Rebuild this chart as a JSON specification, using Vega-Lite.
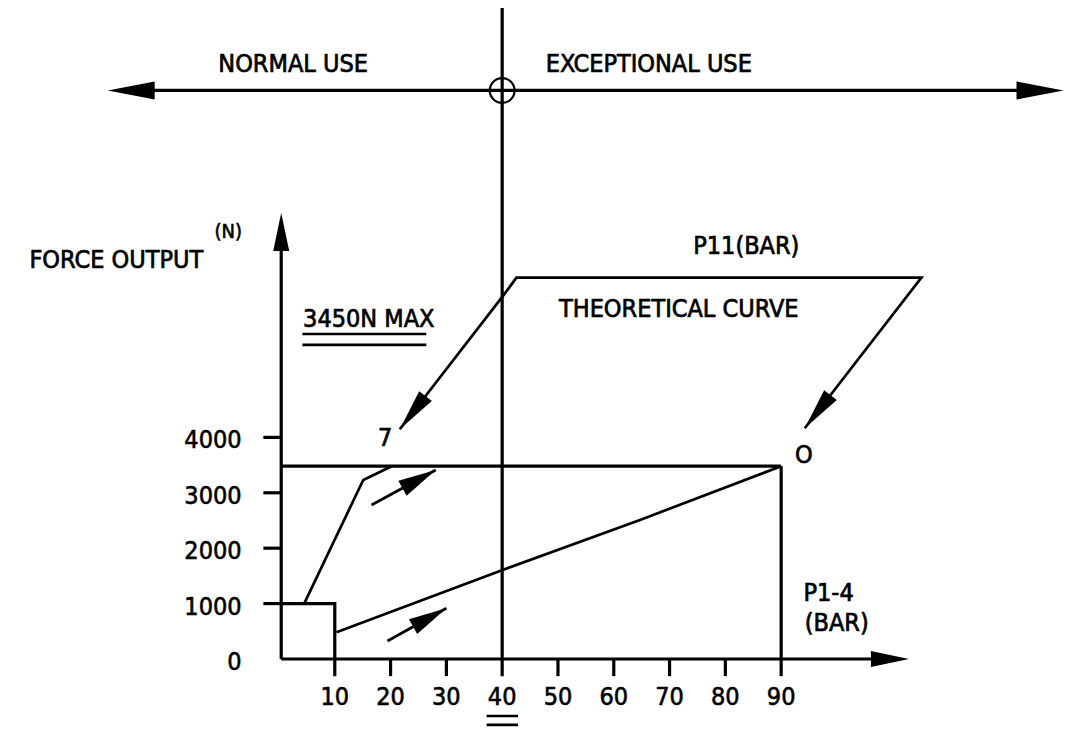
{
  "$schema": "https://vega.github.io/schema/vega-lite/v6.json",
  "width": 1078,
  "height": 731,
  "autosize": {"type": "fit", "contains": "padding"},
  "padding": 0,
  "background": "white",
  "config": {"view": {"stroke": null}},
  "encoding": {
    "x": {"field": "x", "type": "quantitative", "scale": {"domain": [-50, 143.2], "nice": false, "zero": false}, "axis": null},
    "y": {"field": "y", "type": "quantitative", "scale": {"domain": [-1300, 11895], "nice": false, "zero": false}, "axis": null}
  },
  "layer": [
    {
      "data": {"values": [
        {"id": "yaxis", "ord": 1, "x": 0.4, "y": 0}, {"id": "yaxis", "ord": 2, "x": 0.4, "y": 7900},
        {"id": "xaxis", "ord": 1, "x": 0.4, "y": 0}, {"id": "xaxis", "ord": 2, "x": 110, "y": 0},
        {"id": "v40", "ord": 1, "x": 40, "y": 11750}, {"id": "v40", "ord": 2, "x": 40, "y": -310},
        {"id": "top", "ord": 1, "x": -27, "y": 10262}, {"id": "top", "ord": 2, "x": 137, "y": 10262},
        {"id": "box", "ord": 1, "x": 0.4, "y": 1000}, {"id": "box", "ord": 2, "x": 10, "y": 1000}, {"id": "box", "ord": 3, "x": 10, "y": -310},
        {"id": "max", "ord": 1, "x": 0.4, "y": 3480}, {"id": "max", "ord": 2, "x": 90, "y": 3480},
        {"id": "v90", "ord": 1, "x": 90, "y": 3480}, {"id": "v90", "ord": 2, "x": 90, "y": -310},
        {"id": "t20", "ord": 1, "x": 20, "y": 0}, {"id": "t20", "ord": 2, "x": 20, "y": -310},
        {"id": "t30", "ord": 1, "x": 30, "y": 0}, {"id": "t30", "ord": 2, "x": 30, "y": -310},
        {"id": "t50", "ord": 1, "x": 50, "y": 0}, {"id": "t50", "ord": 2, "x": 50, "y": -310},
        {"id": "t60", "ord": 1, "x": 60, "y": 0}, {"id": "t60", "ord": 2, "x": 60, "y": -310},
        {"id": "t70", "ord": 1, "x": 70, "y": 0}, {"id": "t70", "ord": 2, "x": 70, "y": -310},
        {"id": "t80", "ord": 1, "x": 80, "y": 0}, {"id": "t80", "ord": 2, "x": 80, "y": -310},
        {"id": "y1", "ord": 1, "x": -2.8, "y": 1000}, {"id": "y1", "ord": 2, "x": 0.4, "y": 1000},
        {"id": "y2", "ord": 1, "x": -2.8, "y": 2000}, {"id": "y2", "ord": 2, "x": 0.4, "y": 2000},
        {"id": "y3", "ord": 1, "x": -2.8, "y": 3000}, {"id": "y3", "ord": 2, "x": 0.4, "y": 3000},
        {"id": "y4", "ord": 1, "x": -2.8, "y": 4000}, {"id": "y4", "ord": 2, "x": 0.4, "y": 4000}
      ]},
      "mark": {"type": "line", "color": "black", "strokeWidth": 3.2, "strokeCap": "butt"},
      "encoding": {"detail": {"field": "id"}, "order": {"field": "ord"}}
    },
    {
      "data": {"values": [
        {"id": "steep", "ord": 1, "x": 4.6, "y": 1016}, {"id": "steep", "ord": 2, "x": 15.1, "y": 3231}, {"id": "steep", "ord": 3, "x": 20.2, "y": 3480},
        {"id": "lower", "ord": 1, "x": 10.3, "y": 482}, {"id": "lower", "ord": 2, "x": 39.6, "y": 1590}, {"id": "lower", "ord": 3, "x": 64.7, "y": 2509}, {"id": "lower", "ord": 4, "x": 90, "y": 3480},
        {"id": "leader", "ord": 1, "x": 21.65, "y": 4146}, {"id": "leader", "ord": 2, "x": 40.05, "y": 6540}, {"id": "leader", "ord": 3, "x": 42.56, "y": 6883}, {"id": "leader", "ord": 4, "x": 115.14, "y": 6883}, {"id": "leader", "ord": 5, "x": 94.23, "y": 4164},
        {"id": "sa1", "ord": 1, "x": 16.58, "y": 2780}, {"id": "sa1", "ord": 2, "x": 28.1, "y": 3412},
        {"id": "sa2", "ord": 1, "x": 19.44, "y": 325}, {"id": "sa2", "ord": 2, "x": 30.0, "y": 915},
        {"id": "ul1", "ord": 1, "x": 4.2, "y": 5866}, {"id": "ul1", "ord": 2, "x": 26.4, "y": 5866},
        {"id": "ul2", "ord": 1, "x": 4.2, "y": 5668}, {"id": "ul2", "ord": 2, "x": 26.4, "y": 5668},
        {"id": "eq1", "ord": 1, "x": 37.2, "y": -1029}, {"id": "eq1", "ord": 2, "x": 42.85, "y": -1029},
        {"id": "eq2", "ord": 1, "x": 37.2, "y": -1191}, {"id": "eq2", "ord": 2, "x": 42.85, "y": -1191}
      ]},
      "mark": {"type": "line", "color": "black", "strokeWidth": 2.7, "strokeCap": "butt"},
      "encoding": {"detail": {"field": "id"}, "order": {"field": "ord"}}
    },
    {
      "data": {"values": [{"x": 40, "y": 10262}]},
      "mark": {"type": "point", "shape": "circle", "size": 616, "filled": false, "stroke": "black", "strokeWidth": 2.2, "opacity": 1}
    },
    {
      "data": {"values": [{"x": -30.7, "y": 10262}]},
      "mark": {"type": "point", "shape": "M0,0L-47,-9L-47,9Z", "size": 4, "filled": true, "color": "black", "opacity": 1, "angle": 180}
    },
    {
      "data": {"values": [{"x": 140.6, "y": 10262}]},
      "mark": {"type": "point", "shape": "M0,0L-47,-9L-47,9Z", "size": 4, "filled": true, "color": "black", "opacity": 1, "angle": 0}
    },
    {
      "data": {"values": [{"x": 0.4, "y": 8050}]},
      "mark": {"type": "point", "shape": "M0,0L-38,-8L-38,8Z", "size": 4, "filled": true, "color": "black", "opacity": 1, "angle": 270}
    },
    {
      "data": {"values": [{"x": 112.9, "y": 0}]},
      "mark": {"type": "point", "shape": "M0,0L-38,-8L-38,8Z", "size": 4, "filled": true, "color": "black", "opacity": 1, "angle": 0}
    },
    {
      "data": {"values": [{"x": 21.65, "y": 4146}, {"x": 94.23, "y": 4164}]},
      "mark": {"type": "point", "shape": "M0,0L-42,-8L-42,8Z", "size": 4, "filled": true, "color": "black", "opacity": 1, "angle": 127.8}
    },
    {
      "data": {"values": [{"x": 28.1, "y": 3412}, {"x": 30.0, "y": 915}]},
      "mark": {"type": "point", "shape": "M0,0L-38,-8.5L-38,8.5Z", "size": 4, "filled": true, "color": "black", "opacity": 1, "angle": 331.2}
    },
    {
      "data": {"values": [
        {"label": "NORMAL USE", "x": 2.53, "y": 10601},
        {"label": "EXCEPTIONAL USE", "x": 66.27, "y": 10590},
        {"label": "FORCE OUTPUT", "x": -29.16, "y": 7058},
        {"label": "3450N MAX", "x": 16.09, "y": 5987},
        {"label": "7", "x": 19.05, "y": 3845},
        {"label": "P11(BAR)", "x": 83.75, "y": 7310},
        {"label": "THEORETICAL CURVE", "x": 71.65, "y": 6168},
        {"label": "O", "x": 94.05, "y": 3532},
        {"label": "P1-4", "x": 98.5, "y": 1040},
        {"label": "(BAR)", "x": 99.95, "y": 500}
      ]},
      "mark": {"type": "text", "font": "DejaVu Sans Condensed", "fontSize": 25, "align": "center", "baseline": "alphabetic", "color": "black", "stroke": "black", "strokeWidth": 0.7},
      "encoding": {"text": {"field": "label"}}
    },
    {
      "data": {"values": [{"label": "(N)", "x": -9.09, "y": 7599}]},
      "mark": {"type": "text", "font": "DejaVu Sans Condensed", "fontSize": 20, "align": "center", "baseline": "alphabetic", "color": "black", "stroke": "black", "strokeWidth": 0.6},
      "encoding": {"text": {"field": "label"}}
    },
    {
      "data": {"values": [
        {"label": "10", "x": 10, "y": -830}, {"label": "20", "x": 20, "y": -830}, {"label": "30", "x": 30, "y": -830},
        {"label": "40", "x": 40, "y": -830}, {"label": "50", "x": 50, "y": -830}, {"label": "60", "x": 60, "y": -830},
        {"label": "70", "x": 70, "y": -830}, {"label": "80", "x": 80, "y": -830}, {"label": "90", "x": 90, "y": -830}
      ]},
      "mark": {"type": "text", "font": "DejaVu Sans Condensed", "fontSize": 25, "align": "center", "baseline": "alphabetic", "color": "black", "stroke": "black", "strokeWidth": 0.6},
      "encoding": {"text": {"field": "label"}}
    },
    {
      "data": {"values": [
        {"label": "0", "x": -6.7, "y": 0}, {"label": "1000", "x": -6.7, "y": 1000}, {"label": "2000", "x": -6.7, "y": 2000},
        {"label": "3000", "x": -6.7, "y": 3000}, {"label": "4000", "x": -6.7, "y": 4000}
      ]},
      "mark": {"type": "text", "font": "DejaVu Sans Condensed", "fontSize": 25, "align": "right", "baseline": "middle", "dy": 3, "color": "black", "stroke": "black", "strokeWidth": 0.6},
      "encoding": {"text": {"field": "label"}}
    }
  ]
}
